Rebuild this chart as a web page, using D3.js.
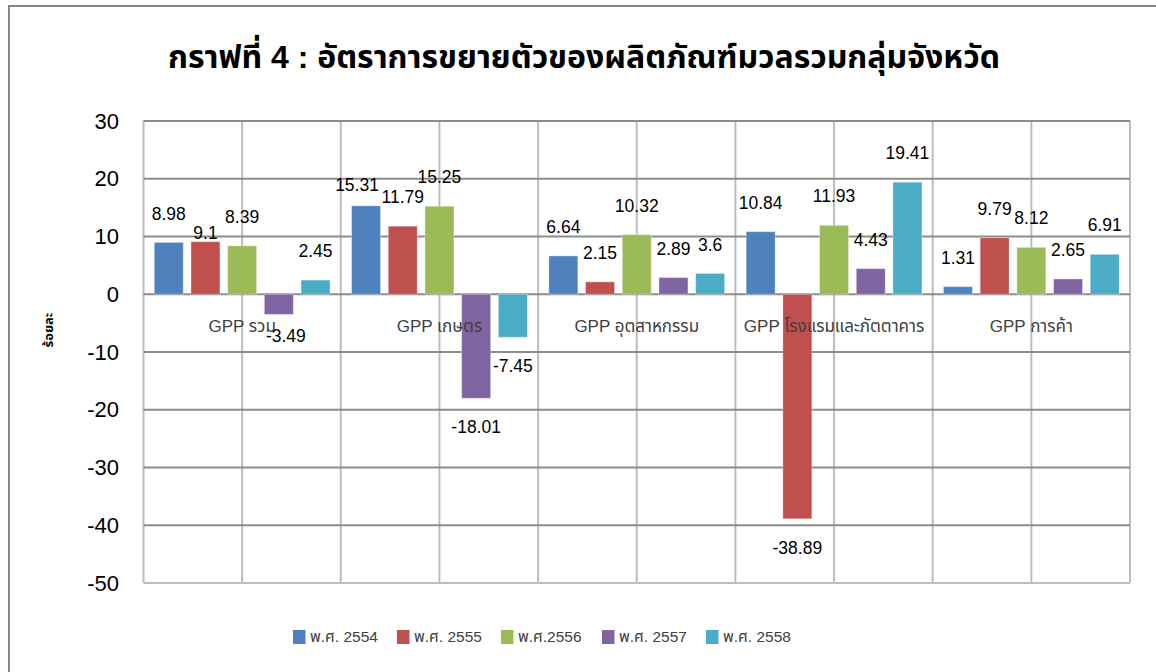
<!DOCTYPE html>
<html>
<head>
<meta charset="utf-8">
<script src="https://cdn.jsdelivr.net/npm/d3@7"></script>
<style>
  body { margin: 0; background: #fff; }
  svg { display: block; font-family: Tahoma, "Liberation Sans", "Noto Sans Thai", "Noto Sans", sans-serif; }
</style>
</head>
<body>
<div id="chart"></div>
<script>
// data
var categories = ["GPP รวม", "GPP เกษตร", "GPP อุตสาหกรรม", "GPP โรงแรมและภัตตาคาร", "GPP การค้า"];
var seriesNames = ["พ.ศ. 2554", "พ.ศ. 2555", "พ.ศ.2556", "พ.ศ. 2557", "พ.ศ. 2558"];
var y2554 = [8.98, 15.31, 6.64, 10.84, 1.31];
var y2555 = [9.1, 11.79, 2.15, -38.89, 9.79];
var y2556 = [8.39, 15.25, 10.32, 11.93, 8.12];
var y2557 = [-3.49, -18.01, 2.89, 4.43, 2.65];
var y2558 = [2.45, -7.45, 3.6, 19.41, 6.91];
var yTicks = [30, 20, 10, 0, -10, -20, -30, -40, -50];
var titleText = "กราฟที่ 4 : อัตราการขยายตัวของผลิตภัณฑ์มวลรวมกลุ่มจังหวัด";
var yTitle = "ร้อยละ";

var seriesValues = [y2554, y2555, y2556, y2557, y2558];
var colors = ["#4f81bd", "#c0504d", "#9bbb59", "#8064a2", "#4bacc6"];

// label nudges (px) where Excel moved labels off the usual spot: [series, category, dx, dy]
var labelNudge = [[1, 0, 0, 20], [0, 1, -9, 8], [3, 0, 7, -8]];

var chartW = 1156, chartH = 672;
var plotLeft = 143.5, plotRight = 1130, plotTop = 121, plotBottom = 583;

var svg = d3.select("#chart").append("svg")
    .attr("width", chartW)
    .attr("height", chartH);

// outer frame
svg.append("rect")
    .attr("x", 9).attr("y", 6)
    .attr("width", 1170).attr("height", 700)
    .attr("fill", "none")
    .attr("stroke", "#878787")
    .attr("stroke-width", 2);

var x0 = d3.scaleBand().domain(categories).range([plotLeft, plotRight]).padding(0);
var x1 = d3.scaleBand().domain(d3.range(seriesNames.length))
    .range([0, x0.bandwidth()])
    .paddingInner(0.21)
    .paddingOuter(0.293);
var y = d3.scaleLinear().domain([-50, 30]).range([plotBottom, plotTop]);

// vertical gridlines at category edges and middles
var vx = [];
categories.forEach(function(c) {
    vx.push(x0(c));
    vx.push(x0(c) + x0.bandwidth() / 2);
});
vx.push(plotRight);
svg.selectAll("line.vgrid").data(vx).enter().append("line")
    .attr("class", "vgrid")
    .attr("x1", function(d) { return d; })
    .attr("x2", function(d) { return d; })
    .attr("y1", plotTop).attr("y2", plotBottom)
    .attr("stroke", "#bdbdbd")
    .attr("stroke-width", 2);

// horizontal gridlines
svg.selectAll("line.hgrid").data(yTicks).enter().append("line")
    .attr("class", "hgrid")
    .attr("x1", plotLeft).attr("x2", plotRight)
    .attr("y1", function(d) { return y(d); })
    .attr("y2", function(d) { return y(d); })
    .attr("stroke", function(d) { return d == -50 ? "#bdbdbd" : "#8c8c8c"; })
    .attr("stroke-width", 2);

// y axis labels (plain hyphen for negatives, like the original)
var yAxis = d3.axisLeft(y).tickValues(yTicks).tickSize(0).tickPadding(0)
    .tickFormat(function(d) { return String(d); });
var ga = svg.append("g")
    .attr("transform", "translate(119,0)")
    .call(yAxis);
ga.select(".domain").remove();
ga.selectAll("text")
    .attr("font-size", 22)
    .attr("fill", "#000")
    .attr("font-family", "Tahoma, 'Liberation Sans', sans-serif");

// bars
var groups = svg.selectAll("g.series").data(seriesValues).enter().append("g")
    .attr("class", "series")
    .attr("fill", function(d, i) { return colors[i]; });

groups.each(function(vals, si) {
    d3.select(this).selectAll("rect").data(vals).enter().append("rect")
        .attr("x", function(d, ci) { return x0(categories[ci]) + x1(si); })
        .attr("width", x1.bandwidth())
        .attr("y", function(d) { return d >= 0 ? y(d) : y(0); })
        .attr("height", function(d) { return Math.abs(y(d) - y(0)); })
        .attr("stroke", "#ffffff")
        .attr("stroke-opacity", 0.35)
        .attr("stroke-width", 1);
});

// category labels (drawn over the bars)
svg.selectAll("text.cat").data(categories).enter().append("text")
    .attr("class", "cat")
    .attr("x", function(d) { return x0(d) + x0.bandwidth() / 2; })
    .attr("y", y(0) + 32)
    .attr("dy", "0.35em")
    .attr("text-anchor", "middle")
    .attr("font-size", 17)
    .attr("fill", "#404040")
    .text(function(d) { return d; });

// data labels
var labels = [];
seriesValues.forEach(function(vals, si) {
    vals.forEach(function(v, ci) {
        var dx = 0, dy = 0;
        labelNudge.forEach(function(n) {
            if (n[0] == si && n[1] == ci) { dx = n[2]; dy = n[3]; }
        });
        labels.push({ v: v, si: si, ci: ci, dx: dx, dy: dy });
    });
});
svg.selectAll("text.val").data(labels).enter().append("text")
    .attr("class", "val")
    .attr("x", function(d) { return x0(categories[d.ci]) + x1(d.si) + x1.bandwidth() / 2 + d.dx; })
    .attr("y", function(d) { return (d.v >= 0 ? y(d.v) - 29 : y(d.v) + 29) + d.dy; })
    .attr("dy", "0.35em")
    .attr("text-anchor", "middle")
    .attr("font-size", 17.5)
    .attr("fill", "#000")
    .text(function(d) { return d.v; });

// title
svg.append("text")
    .attr("x", 584).attr("y", 57)
    .attr("dy", "0.35em")
    .attr("text-anchor", "middle")
    .attr("font-size", 32)
    .attr("font-weight", "bold")
    .attr("fill", "#000")
    .text(titleText);

// y axis title
svg.append("text")
    .attr("transform", "translate(48,330) rotate(-90)")
    .attr("dy", "0.35em")
    .attr("text-anchor", "middle")
    .attr("font-size", 13)
    .attr("font-weight", "bold")
    .attr("fill", "#000")
    .text(yTitle);

// legend
var legendX = [293, 397, 501, 602, 706];
var legend = svg.selectAll("g.legend").data(seriesNames).enter().append("g")
    .attr("class", "legend")
    .attr("transform", function(d, i) { return "translate(" + legendX[i] + ",630)"; });
legend.append("rect")
    .attr("width", 12.5).attr("height", 14)
    .attr("fill", function(d, i) { return colors[i]; });
legend.append("text")
    .attr("x", 17).attr("y", 7)
    .attr("dy", "0.35em")
    .attr("font-size", 15.5)
    .attr("fill", "#404040")
    .text(function(d) { return d; });
</script>
</body>
</html>
